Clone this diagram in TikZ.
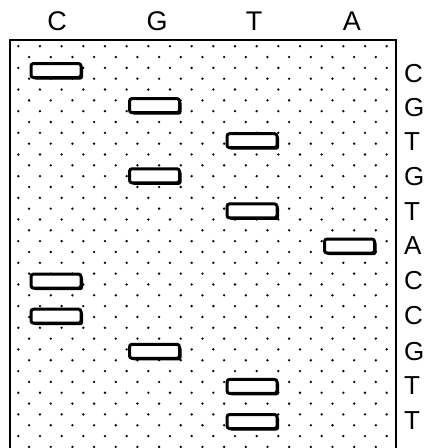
\documentclass[tikz,border=0pt]{standalone}
\usepackage{fontspec}
\setmainfont{Liberation Sans}
\usetikzlibrary{shadows}
\begin{document}
\begin{tikzpicture}[x=1pt,y=-1pt,
  gelframe/.style={line width=2.8pt},
  band/.style={draw=black,fill=white,line width=3pt,rounded corners=2.5pt,
    minimum width=50pt,minimum height=14pt,inner sep=0pt,
    drop shadow={shadow xshift=2pt,shadow yshift=-2pt,fill=black,opacity=1}},
  lane/.style={font=\fontsize{27}{27}\selectfont,inner sep=0pt,anchor=center},
  seq/.style={font=\fontsize{26}{26}\selectfont,inner sep=0pt,anchor=west}]
\useasboundingbox (0,0) rectangle (425,448);
\clip (0,0) rectangle (425,448);
\fill[white] (0,0) rectangle (425,448);
% frame
\draw[gelframe] (10,460) -- (10,40) -- (396,40) -- (396,460);
% dot grid
\foreach \r in {0,...,37}{
  \pgfmathtruncatemacro{\odd}{mod(\r,2)}
  \ifnum\odd=0
    \foreach \c in {0,...,17}{
      \fill ({18.3+21.67*\c},{46.2+10.83*\r}) circle (1.3pt);}
  \else
    \foreach \c in {0,...,16}{
      \fill ({29.1+21.67*\c},{46.2+10.83*\r}) circle (1.3pt);}
  \fi
}
% lane labels
\node[lane] (lc) at (57,21) {C};
\node[lane] (lg) at (157,21) {G};
\node[lane] (lt) at (254,21) {T};
\node[lane] (la) at (352,21) {A};
% bands
\node[band] (b1) at (56,70.5) {};
\node[band] (b2) at (154.5,105.6) {};
\node[band] (b3) at (252,140.7) {};
\node[band] (b4) at (154.5,175.8) {};
\node[band] (b5) at (252,210.9) {};
\node[band] (b6) at (349.5,246) {};
\node[band] (b7) at (56,281.1) {};
\node[band] (b8) at (56,316.2) {};
\node[band] (b9) at (154.5,351.3) {};
\node[band] (b10) at (252,386.4) {};
\node[band] (b11) at (252,421.5) {};
% sequence read-out
\node[seq] (s1) at (404,74) {C};
\node[seq] (s2) at (404,108) {G};
\node[seq] (s3) at (404,142) {T};
\node[seq] (s4) at (404,177) {G};
\node[seq] (s5) at (404,212) {T};
\node[seq] (s6) at (404,246) {A};
\node[seq] (s7) at (404,281) {C};
\node[seq] (s8) at (404,316) {C};
\node[seq] (s9) at (404,352) {G};
\node[seq] (s10) at (404,386) {T};
\node[seq] (s11) at (404,421) {T};
\end{tikzpicture}
\end{document}
